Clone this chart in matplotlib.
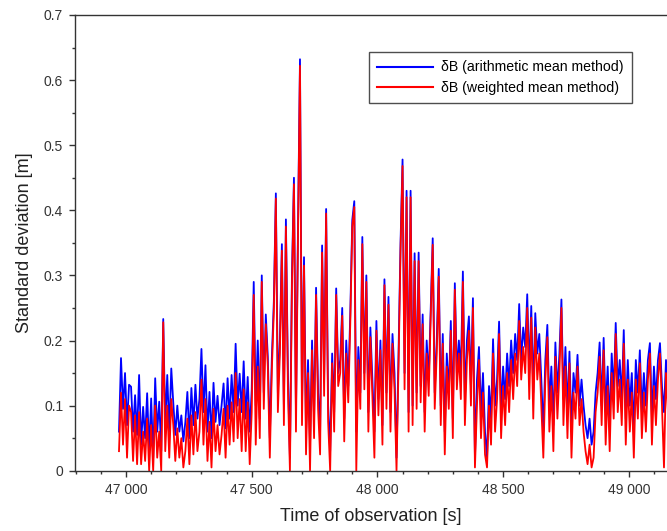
import numpy as np
import matplotlib
matplotlib.use("Agg")
from matplotlib import pyplot as plt
from matplotlib.ticker import FuncFormatter, MultipleLocator

plt.rcParams['font.family'] = ['Liberation Sans', 'DejaVu Sans']

# time of observation [s], one sample every 8 s
t_start = 46972
t_step = 8

# standard deviation in mm (arithmetic mean method)
arith_mm = [
    60, 173, 95, 150, 70, 132, 129, 60, 116, 55,
    147, 40, 98, 50, 119, 30, 111, 20, 142, 60,
    106, 30, 233, 70, 147, 60, 157, 104, 55, 100,
    60, 85, 45, 75, 121, 50, 127, 70, 132, 80,
    110, 187, 90, 162, 60, 121, 50, 135, 75, 115,
    70, 100, 134, 65, 142, 80, 147, 90, 195, 100,
    149, 90, 168, 80, 144, 60, 124, 290, 100, 200,
    80, 300, 120, 240, 175, 50, 173, 260, 426, 120,
    200, 348, 100, 386, 150, 20, 300, 450, 90, 370,
    632, 100, 328, 60, 170, 40, 200, 80, 281, 120,
    60, 346, 140, 402, 100, 30, 180, 90, 280, 150,
    170, 250, 80, 200, 130, 240, 385, 414, 60, 190,
    120, 359, 150, 300, 90, 220, 140, 60, 230, 110,
    200, 70, 294, 120, 267, 90, 210, 150, 20, 180,
    350, 478, 150, 430, 90, 430, 100, 334, 120, 335,
    130, 240, 90, 200, 140, 250, 357, 120, 200, 310,
    100, 210, 60, 180, 120, 230, 80, 288, 150, 200,
    150, 306, 110, 200, 237, 130, 265, 20, 140, 190,
    90, 150, 60, 20, 130, 80, 202, 100, 140, 229,
    90, 160, 110, 180, 130, 200, 150, 210, 170, 256,
    170, 220, 190, 271, 150, 253, 120, 242, 180, 210,
    140, 60, 170, 224, 100, 160, 70, 197, 120, 180,
    263, 110, 190, 90, 183, 60, 150, 120, 178, 100,
    140, 100, 70, 50, 80, 40, 60, 120, 150, 197,
    100, 204, 90, 160, 70, 180, 120, 227, 130, 170,
    110, 216, 80, 170, 100, 150, 60, 170, 120, 185,
    90, 150, 100, 170, 196, 80, 160, 110, 170, 196,
    130, 90, 170, 120,
]

# standard deviation in mm (weighted mean method)
weighted_mm = [
    30, 120, 40, 110, 20, 100, 90, 15, 85, 10,
    90, 10, 60, 15, 80, 0, 70, 0, 100, 20,
    60, 0, 228, 30, 100, 20, 110, 70, 15, 65,
    20, 50, 5, 30, 80, 10, 85, 25, 90, 30,
    60, 140, 40, 110, 15, 75, 5, 95, 30, 70,
    25, 55, 95, 20, 100, 40, 105, 45, 150, 50,
    110, 30, 125, 30, 105, 10, 90, 270, 40, 160,
    50, 290, 95, 225, 160, 20, 155, 245, 418, 90,
    180, 338, 70, 375, 125, 0, 285, 440, 60, 358,
    622, 70, 315, 25, 150, 0, 185, 50, 270, 95,
    25, 335, 115, 395, 75, 0, 165, 60, 270, 130,
    150, 238, 45, 180, 105, 225, 375, 405, 0, 170,
    95, 348, 125, 290, 60, 205, 115, 20, 215, 85,
    185, 40, 285, 95, 255, 60, 195, 125, 0, 160,
    338, 468, 125, 420, 60, 420, 70, 322, 95, 322,
    105, 225, 60, 180, 115, 235, 347, 95, 180, 298,
    70, 195, 25, 160, 95, 215, 50, 278, 125, 180,
    110, 290, 70, 170, 215, 100, 250, 5, 100, 170,
    50, 120, 25, 5, 100, 40, 180, 60, 110, 210,
    50, 130, 70, 150, 90, 170, 110, 180, 130, 230,
    140, 190, 150, 250, 110, 235, 80, 220, 140, 180,
    100, 20, 140, 205, 60, 130, 30, 175, 80, 150,
    250, 70, 160, 50, 165, 20, 120, 80, 160, 70,
    110, 60, 30, 10, 40, 5, 20, 90, 120, 175,
    70, 185, 40, 130, 30, 150, 80, 210, 90, 140,
    70, 195, 40, 140, 60, 120, 20, 140, 80, 165,
    50, 120, 60, 140, 180, 40, 130, 70, 140, 180,
    100, 5, 150, 90,
]

x_ticks = [47000, 47500, 48000, 48500, 49000]
y_ticks = [0, 0.1, 0.2, 0.3, 0.4, 0.5, 0.6, 0.7]

t = t_start + t_step * np.arange(len(arith_mm))
arith = np.array(arith_mm) / 1000
weighted = np.array(weighted_mm) / 1000

W, H = 667, 531
fig = plt.figure(figsize=(W / 100, H / 100), dpi=100)
ax = fig.add_axes([75 / W, (H - 470.7) / H, (W - 75) / W, (470.7 - 15) / H])

ax.plot(t, arith, color="#0000ff", lw=1.3, label="δB (arithmetic mean method)")
ax.plot(t, weighted, color="#ff0000", lw=1.3, label="δB (weighted mean method)")

ax.set_xlim(46797, 49152)
ax.set_ylim(0, 0.7)
ax.set_xticks(x_ticks)
ax.set_yticks(y_ticks)
ax.xaxis.set_minor_locator(MultipleLocator(100))
ax.yaxis.set_minor_locator(MultipleLocator(0.05))
ax.xaxis.set_major_formatter(FuncFormatter(lambda v, p: f"{int(round(v)):,}".replace(",", " ")))
ax.yaxis.set_major_formatter(FuncFormatter(lambda v, p: "0" if abs(v) < 1e-9 else f"{v:.1f}"))

for s in ["left", "bottom", "top"]:
    ax.spines[s].set_color("#333333")
    ax.spines[s].set_linewidth(1.0)
ax.spines["right"].set_visible(False)
ax.tick_params(which="both", direction="out", colors="#333333", labelsize=10, top=False, right=False)
ax.tick_params(which="major", length=4.5, width=1.0, pad=4)
ax.tick_params(which="minor", length=2.5, width=1.0)

ax.set_xlabel("Time of observation [s]", fontsize=13, color="#222222", labelpad=8)
ax.set_ylabel("Standard deviation [m]", fontsize=13, color="#222222", labelpad=8)

leg = ax.legend(loc="upper right", bbox_to_anchor=(632 / W, 1 - 52 / H),
                bbox_transform=fig.transFigure, borderaxespad=0, fontsize=10.2,
                frameon=True, fancybox=False, handlelength=3.9, handletextpad=0.6,
                borderpad=0.6, labelspacing=0.45)
leg.get_frame().set_edgecolor("#222222")
leg.get_frame().set_linewidth(1.0)
for line in leg.get_lines():
    line.set_linewidth(1.5)

fig.savefig("out.png", dpi=100)
